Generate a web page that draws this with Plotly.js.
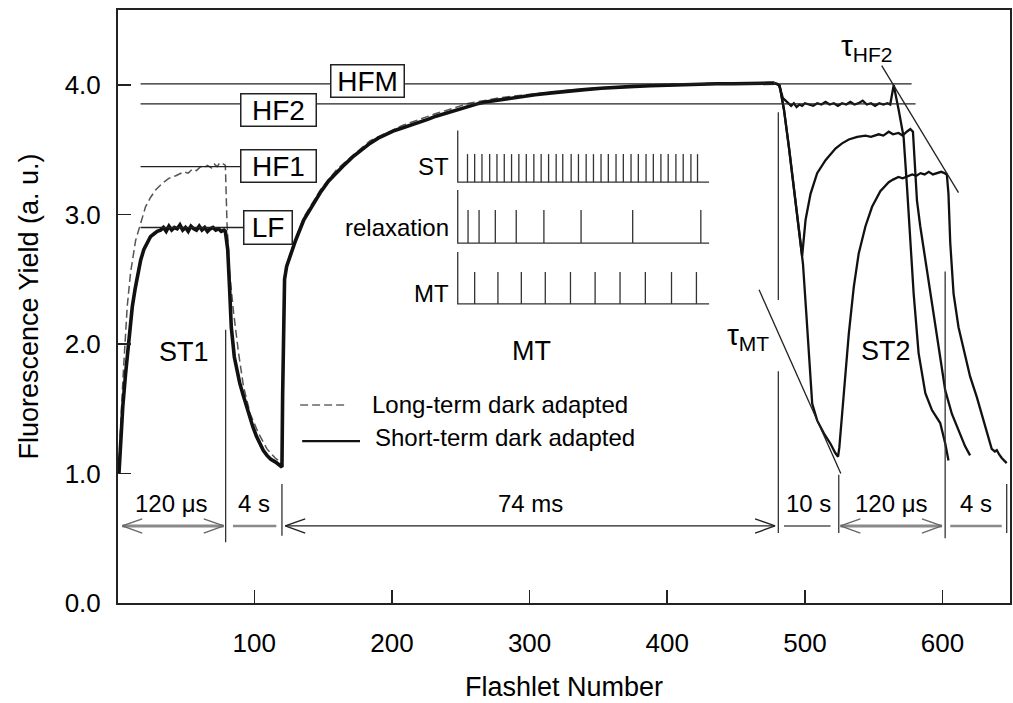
<!DOCTYPE html>
<html>
<head>
<meta charset="utf-8">
<script src="https://cdn.plot.ly/plotly-3.0.1.min.js"></script>
<style>html,body{margin:0;padding:0;background:#fff;}#chart{width:1013px;height:703px;}</style>
</head>
<body>
<div id="chart"></div>
<script>
// ---------------- DATA ----------------
// Short-term dark adapted: ST1, its 4 s relaxation and MT (thick part)
const shortX1 = [1.7, 2.9, 4.5, 6.5, 8.9, 11.4, 13.5, 15.5, 17.5, 19.8, 22, 24.6, 27, 29.5, 31.9, 34, 36, 38, 40, 42, 44, 46, 48, 50, 52, 54, 56, 58, 60, 62, 64, 66, 68, 70, 72, 74, 76, 78, 79,
  80.7, 82.1, 83.3, 85.5, 87.5, 89.4, 91.8, 94.2, 96.6, 99, 101.5, 103.9, 106.5, 109.2, 112, 115.2, 118, 120.1,
  120.6, 121.2, 122, 123.5, 126, 130, 136, 142, 148, 154, 160, 166, 172, 178, 184, 190, 196, 202, 208, 214, 220, 226, 232, 238, 244, 250, 256, 262, 268, 274, 280, 292, 304, 316, 328, 340, 352, 364, 376, 388, 400, 412, 424, 436, 448, 460, 470, 478];
const shortY1 = [1.00, 1.26, 1.52, 1.77, 2.03, 2.29, 2.43, 2.55, 2.65, 2.73, 2.78, 2.83, 2.85, 2.87, 2.88, 2.90, 2.87, 2.91, 2.88, 2.90, 2.89, 2.92, 2.88, 2.90, 2.87, 2.91, 2.89, 2.88, 2.91, 2.88, 2.90, 2.87, 2.89, 2.90, 2.88, 2.89, 2.87, 2.88, 2.87,
  2.73, 2.42, 2.13, 1.90, 1.79, 1.70, 1.61, 1.52, 1.44, 1.36, 1.29, 1.23, 1.18, 1.14, 1.11, 1.09, 1.07, 1.05,
  1.60, 2.20, 2.50, 2.60, 2.68, 2.80, 2.96, 3.07, 3.17, 3.26, 3.33, 3.39, 3.45, 3.50, 3.55, 3.59, 3.62, 3.65, 3.67, 3.69, 3.71, 3.735, 3.76, 3.78, 3.80, 3.82, 3.84, 3.855, 3.87, 3.88, 3.89, 3.91, 3.925, 3.94, 3.955, 3.965, 3.975, 3.985, 3.99, 3.995, 4.00, 4.00, 4.005, 4.01, 4.01, 4.01, 4.01, 4.015];
// Short-term: 10 s relaxation, ST2 and final 4 s relaxation
const shortX2 = [478, 480, 481.6, 484.8, 488.4, 492, 495.7, 498.6, 501, 503.4, 505.3, 508.9, 513.8, 518.6, 522, 524.1, 525, 528.3, 531.9, 535.5, 539.1, 544, 548.8, 554.8, 560.9, 564, 568, 571, 575.4, 578, 581, 584, 587, 590, 593, 596, 599, 601.5, 603.1, 604.3, 605.6, 608, 611.6, 616, 620, 624.9, 628.5, 632.1, 635.7, 638, 639.4, 641, 643, 646.6];
const shortY2 = [4.015, 4.01, 4.00, 3.81, 3.52, 3.21, 2.91, 2.62, 2.24, 1.88, 1.54, 1.41, 1.31, 1.23, 1.16, 1.13, 1.20, 1.62, 2.08, 2.44, 2.70, 2.91, 3.06, 3.18, 3.25, 3.27, 3.29, 3.28, 3.30, 3.31, 3.30, 3.32, 3.31, 3.33, 3.31, 3.32, 3.33, 3.32, 3.31, 3.16, 2.78, 2.39, 2.13, 1.93, 1.75, 1.59, 1.46, 1.31, 1.19, 1.17, 1.18, 1.15, 1.12, 1.08];
// Trace staying at HF2 (no dark interval after MT)
const hf2X = [478, 481, 482.4, 484, 486, 488, 490, 492, 494, 496, 498, 500, 503, 506, 509, 512, 515, 518, 521, 524, 527, 530, 533, 536, 539, 542, 545, 548, 551, 554, 557, 560, 562, 563.5, 564.5, 568.1, 571.7, 574.2, 576.6, 579, 582.6, 587.5, 592.3, 598.3, 602, 604.3];
const hf2Y = [4.015, 4.00, 3.96, 3.90, 3.88, 3.86, 3.84, 3.86, 3.83, 3.85, 3.84, 3.86, 3.85, 3.84, 3.86, 3.85, 3.87, 3.85, 3.86, 3.84, 3.86, 3.85, 3.87, 3.85, 3.86, 3.88, 3.85, 3.86, 3.84, 3.86, 3.85, 3.86, 3.85, 3.93, 4.00, 3.81, 3.60, 3.21, 2.78, 2.39, 1.93, 1.62, 1.49, 1.39, 1.23, 1.10];
// Trace with a short dark interval after MT
const midX = [481.6, 484.8, 488.4, 492, 495.7, 498, 500.5, 504.1, 508.9, 515, 522.2, 527, 531.9, 538, 544, 548, 553.6, 557, 560.9, 564, 568, 571, 574, 576.6, 578.5, 579.7, 581.4, 583.8, 587.5, 591.1, 594.7, 598.3, 602, 606.8, 611.6, 616.4, 620];
const midY = [4.00, 3.81, 3.52, 3.21, 2.91, 2.68, 2.96, 3.16, 3.32, 3.42, 3.51, 3.55, 3.58, 3.60, 3.61, 3.60, 3.62, 3.61, 3.64, 3.62, 3.63, 3.61, 3.64, 3.66, 3.64, 3.42, 3.11, 2.91, 2.65, 2.39, 2.13, 1.88, 1.64, 1.46, 1.34, 1.21, 1.14];
// Long-term dark adapted (dashed)
const longX = [1.7, 2.4, 4.8, 7.7, 10.1, 13.8, 17.4, 21, 24.5, 28.3, 33, 37.9, 43, 48.8, 52, 55, 58, 61, 63.3, 66, 69, 71, 73, 75, 77.8, 79,
  80.2, 82.1, 85, 88.6, 92.2, 97.1, 103.1, 109.2, 115.2, 120.1,
  120.6, 121.2, 122, 126, 136, 148, 160, 184, 208, 232, 256, 280, 304, 328, 352, 376, 400, 440, 478];
const longY = [1.00, 1.26, 1.77, 2.29, 2.55, 2.80, 2.93, 3.06, 3.13, 3.19, 3.24, 3.28, 3.30, 3.33, 3.32, 3.35, 3.34, 3.37, 3.36, 3.38, 3.36, 3.39, 3.37, 3.40, 3.39, 3.38,
  2.93, 2.55, 2.24, 1.93, 1.67, 1.46, 1.31, 1.19, 1.12, 1.08,
  1.70, 2.25, 2.52, 2.70, 2.98, 3.19, 3.35, 3.57, 3.69, 3.78, 3.86, 3.905, 3.935, 3.96, 3.98, 3.995, 4.005, 4.015, 4.02];

// Fluorescence levels
const levelNames = ['HFM', 'HF2', 'HF1', 'LF'];
const levelValues = [4.01, 3.855, 3.37, 2.90];
const levelStart = [17.4, 17.4, 17.4, 17.4];
const levelEnd = [577.5, 580.4, 110, 105];
const levelLabelX = [181.9, 117.4, 117.4, 109.8];
const levelLabelY = [4.035, 3.81, 3.375, 2.90];

// Phases / intervals
const phaseBounds = [1, 79.2, 120.1, 480.7, 524.6, 601.9, 646.6];
const intervalLabels = ['120 μs', '4 s', '74 ms', '10 s', '120 μs', '4 s'];
const intervalStart = [4.1, 84.5, 122.5, 484.8, 525.8, 605.6];
const intervalEnd = [77.8, 116, 478.3, 518.6, 599.5, 643];
const intervalY = 0.595;
const intervalLabelY = 0.77;
const sepX = [79.2, 120.1, 480.7, 480.7, 524.6, 601.9, 646.6];
const sepY0 = [0.47, 0.52, 0.54, 2.34, 0.54, 0.50, 0.54];
const sepY1 = [2.11, 0.92, 1.79, 3.79, 0.99, 2.56, 0.92];

// Tangents
const tauMTx = [466.7, 526.1], tauMTy = [2.42, 1.00];
const tauHF2x = [555.8, 611.6], tauHF2y = [4.15, 3.17];

// Inset pulse trains
const insetRows = ['ST', 'relaxation', 'MT'];
const insetBase = [3.25, 2.78, 2.31];
const insetPulseTop = [3.467, 3.035, 2.556];
const insetFrameTop = [3.65, 3.19, 2.71];
const insetStartX = 247.8, insetEndX = 430.4;
const pulsesST = [254.9, 260.1, 265.4, 271.0, 276.3, 281.6, 286.9, 292.2, 297.6, 303.1, 308.4, 313.8, 319.3, 324.1, 330.2, 335.5, 341.1, 346.4, 351.9, 357.2, 362.8, 368.1, 373.7, 379.0, 384.6, 389.9, 395.4, 400.7, 406.3, 411.6, 417.2, 422.0];
const pulsesRelax = [255.3, 263.3, 275.1, 290.3, 310.4, 337.4, 374.9, 424.4];
const pulsesMT = [260.1, 277.0, 294.0, 311.4, 329.7, 347.6, 365.7, 384.1, 403.1, 421.2];

// ---------------- BUILD ----------------
const FONT = 'Liberation Sans, Arial, Helvetica, sans-serif';
const INK = '#000';
const traces = [];

traces.push({x: longX, y: longY, mode: 'lines', line: {color: '#555', width: 1.5, dash: '8px,4px'}, hoverinfo: 'skip'});
traces.push({x: shortX1, y: shortY1, mode: 'lines', line: {color: '#111', width: 3.6}, hoverinfo: 'skip'});
traces.push({x: shortX2, y: shortY2, mode: 'lines', line: {color: '#111', width: 2.3}, hoverinfo: 'skip'});
traces.push({x: hf2X, y: hf2Y, mode: 'lines', line: {color: '#111', width: 2.3}, hoverinfo: 'skip'});
traces.push({x: midX, y: midY, mode: 'lines', line: {color: '#111', width: 2.3}, hoverinfo: 'skip'});

// inset
const ix = [], iy = [];
const pulseSets = [pulsesST, pulsesRelax, pulsesMT];
for (let r = 0; r < insetRows.length; r++) {
  ix.push(insetStartX, insetStartX, insetEndX, null);
  iy.push(insetFrameTop[r], insetBase[r], insetBase[r], null);
  for (const p of pulseSets[r]) { ix.push(p, p, null); iy.push(insetBase[r], insetPulseTop[r], null); }
}
traces.push({x: ix, y: iy, mode: 'lines', line: {color: '#333', width: 1.3}, hoverinfo: 'skip'});

// interval arrows
const headLen = 14.5, headH = 0.055;
const heads = [true, false, true, false, true, false];
const shaftColor = ['#8a8a8a', '#8a8a8a', '#222', '#555', '#8a8a8a', '#8a8a8a'];
const shaftWidth = [3, 2.5, 1.2, 1.5, 3, 2.5];
for (let i = 0; i < intervalLabels.length; i++) {
  traces.push({x: [intervalStart[i], intervalEnd[i]], y: [intervalY, intervalY], mode: 'lines',
    line: {color: shaftColor[i], width: shaftWidth[i]}, hoverinfo: 'skip'});
  if (heads[i]) {
    const a = intervalStart[i], b = intervalEnd[i];
    traces.push({x: [a + headLen, a, a + headLen, null, b - headLen, b, b - headLen],
      y: [intervalY + headH, intervalY, intervalY - headH, null, intervalY + headH, intervalY, intervalY - headH],
      mode: 'lines', line: {color: i === 2 ? '#222' : '#666', width: 1.4}, hoverinfo: 'skip'});
  }
}

const shapes = [];
for (let i = 0; i < levelNames.length; i++) {
  shapes.push({type: 'line', xref: 'x', yref: 'y', x0: levelStart[i], x1: levelEnd[i], y0: levelValues[i], y1: levelValues[i], line: {color: '#222', width: 1.3}});
}
for (let i = 0; i < sepX.length; i++) {
  shapes.push({type: 'line', xref: 'x', yref: 'y', x0: sepX[i], x1: sepX[i], y0: sepY0[i], y1: sepY1[i], line: {color: '#333', width: 1.3}});
}
shapes.push({type: 'line', xref: 'x', yref: 'y', x0: tauMTx[0], x1: tauMTx[1], y0: tauMTy[0], y1: tauMTy[1], line: {color: '#222', width: 1.3}});
shapes.push({type: 'line', xref: 'x', yref: 'y', x0: tauHF2x[0], x1: tauHF2x[1], y0: tauHF2y[0], y1: tauHF2y[1], line: {color: '#222', width: 1.3}});
// legend samples
shapes.push({type: 'line', xref: 'x', yref: 'y', x0: 133.3, x1: 168.1, y0: 1.53, y1: 1.53, line: {color: '#666', width: 1.5, dash: '8px,4px'}});
shapes.push({type: 'line', xref: 'x', yref: 'y', x0: 134.8, x1: 176.8, y0: 1.25, y1: 1.25, line: {color: '#111', width: 2.3}});

const annotations = [];
const boxW = [70, 72, 72, 45], boxH = [29, 29, 29, 30];
for (let i = 0; i < levelNames.length; i++) {
  annotations.push({x: levelLabelX[i], y: levelLabelY[i], xref: 'x', yref: 'y', text: levelNames[i], showarrow: false,
    font: {size: 28, color: INK, family: FONT}, bgcolor: '#fff', bordercolor: '#222', borderwidth: 1.5, borderpad: 1,
    width: boxW[i], height: boxH[i], xanchor: 'center', yanchor: 'middle'});
}
for (let i = 0; i < intervalLabels.length; i++) {
  annotations.push({x: (phaseBounds[i] + phaseBounds[i + 1]) / 2, y: intervalLabelY, xref: 'x', yref: 'y', text: intervalLabels[i], showarrow: false,
    font: {size: 24, color: INK, family: FONT}});
}
const regionText = ['ST1', 'MT', 'ST2'];
const regionX = [48.6, 301.4, 559], regionY = [1.94, 1.95, 1.95];
for (let i = 0; i < regionText.length; i++) {
  annotations.push({x: regionX[i], y: regionY[i], xref: 'x', yref: 'y', text: regionText[i], showarrow: false, font: {size: 27, color: INK, family: FONT}});
}
annotations.push({x: 459, y: 2.06, xref: 'x', yref: 'y', text: 'τ<sub>MT</sub>', showarrow: false, font: {size: 30, color: INK, family: FONT}});
annotations.push({x: 545, y: 4.29, xref: 'x', yref: 'y', text: 'τ<sub>HF2</sub>', showarrow: false, font: {size: 30, color: INK, family: FONT}});
const insetLabelY = [3.37, 2.90, 2.39];
for (let i = 0; i < insetRows.length; i++) {
  annotations.push({x: 243, y: insetLabelY[i], xref: 'x', yref: 'y', text: insetRows[i], showarrow: false, xanchor: 'right', font: {size: 24, color: INK, family: FONT}});
}
annotations.push({x: 184, y: 1.53, xref: 'x', yref: 'y', text: 'Long-term dark adapted', showarrow: false, xanchor: 'left', font: {size: 24, color: INK, family: FONT}});
annotations.push({x: 186.2, y: 1.28, xref: 'x', yref: 'y', text: 'Short-term dark adapted', showarrow: false, xanchor: 'left', font: {size: 24, color: INK, family: FONT}});

const axisCommon = {showgrid: false, zeroline: false, showline: true, linewidth: 2, linecolor: '#222', mirror: true,
  ticks: 'inside', ticklen: 13, tickwidth: 1.5, tickcolor: '#222', tickfont: {size: 26, color: INK, family: FONT}};
const layout = {
  width: 1013, height: 703,
  margin: {l: 118, r: 3, t: 10, b: 100},
  paper_bgcolor: '#fff', plot_bgcolor: '#fff',
  showlegend: false,
  font: {family: FONT, color: INK},
  xaxis: Object.assign({}, axisCommon, {range: [1, 649], tick0: 0, dtick: 100, ticklabelstandoff: 16,
    title: {text: 'Flashlet Number', font: {size: 27, color: INK, family: FONT}, standoff: 20}}),
  yaxis: Object.assign({}, axisCommon, {range: [0, 4.58], tick0: 0, dtick: 1, tickformat: '.1f', ticklabelstandoff: 10,
    title: {text: 'Fluorescence Yield (a. u.)', font: {size: 27, color: INK, family: FONT}, standoff: 18}}),
  shapes: shapes,
  annotations: annotations
};
Plotly.newPlot('chart', traces, layout, {staticPlot: true, displayModeBar: false});
</script>
</body>
</html>
